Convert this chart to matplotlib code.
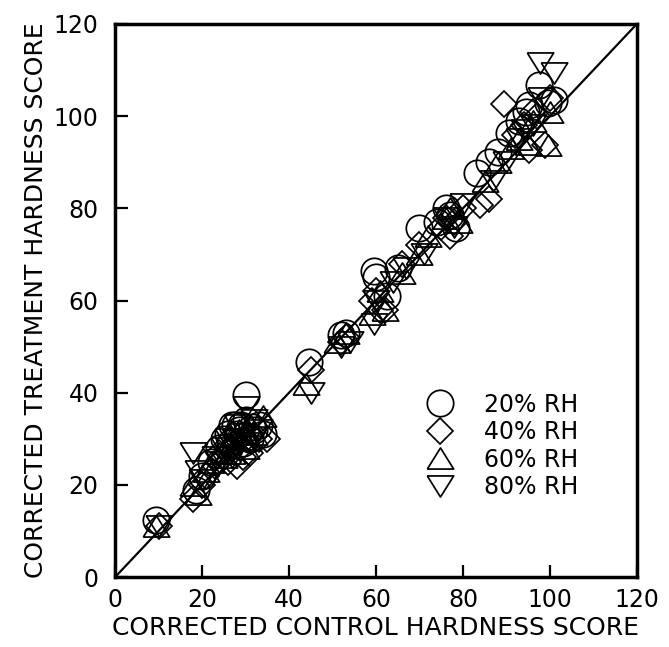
import matplotlib
matplotlib.use("Agg")
import matplotlib.pyplot as plt
from matplotlib.lines import Line2D

# 20% RH (circles)
x20 = [9.5, 18.5, 20, 22, 24, 25, 26, 27, 28, 28.5, 29, 30, 30, 31, 32, 33, 34,
       26.5, 29.5, 31.5, 27.5,
       44.5, 52, 53, 59.5, 60, 62.5, 65, 70, 74, 76, 77, 78.5, 83.3, 86, 88, 90.7,
       93, 94.5, 95.3, 97.6, 99.5, 101]
y20 = [12.4, 19, 22, 25, 28, 30, 31, 33, 31, 32, 33, 39.5, 34, 30, 32, 33, 31,
       29, 29, 32.5, 33,
       46.7, 52.5, 53, 66.5, 65, 61, 67, 75.7, 77, 80, 78.5, 75.7, 87.7, 90, 92.2, 96.4,
       99, 101, 102.4, 106.8, 102.8, 103.5]
# 40% RH (diamonds)
x40 = [10, 18, 20, 21, 23, 25, 26, 27, 28, 29, 30, 31, 33, 35, 24, 27.5, 29.5,
       45, 52, 53, 59, 60,
       61, 62, 66, 70, 75, 76, 77, 78, 80, 84, 86, 89.5, 92, 94, 95.3, 96, 98.8, 97, 100]
y40 = [11, 17, 20, 22, 24, 26, 25, 28, 24, 28, 30, 27, 30, 30, 27, 29, 26,
       45, 51, 52, 60, 62,
       58, 58, 68, 72, 76, 78, 74, 77, 80, 80.7, 82, 102.6, 96, 98, 92.7, 101, 93.7, 100, 104]
# 60% RH (up triangles)
x60 = [9.5, 18, 19, 21, 22, 24, 26, 27, 28, 29, 30, 31, 32, 34, 25, 28.5, 30.5,
       44, 51, 53, 59, 61,
       62, 66, 70, 72, 76, 77, 79, 85, 88, 91, 93, 95, 96, 99.5, 100]
y60 = [11, 20, 18, 23, 25, 27, 29, 27, 31, 30, 28, 33, 31, 35, 26, 32, 30,
       42, 51, 53, 57, 62,
       58, 66, 70, 74, 78, 80, 77, 86, 90, 93, 95, 94, 99, 93.8, 101]
# 80% RH (down triangles)
x80 = [10, 18, 19, 20, 23, 25, 26, 27, 28, 29, 30, 31, 33, 24, 27.5, 32,
       45, 52, 54, 59.5, 60, 64,
       67, 71, 76, 78, 80, 87, 90, 93, 94, 96, 97.8, 101, 98]
y80 = [11, 27, 23, 21, 26, 28, 30, 26, 33, 31, 37, 29, 32, 25, 30, 34,
       40, 50, 51, 55, 60, 64,
       67, 70, 78, 76, 81, 86, 90, 95, 97, 98, 111.5, 109.4, 104]

labels = ["20% RH", "40% RH", "60% RH", "80% RH"]
ticks = [0, 20, 40, 60, 80, 100, 120]

up_tri = [(-1, -0.8), (1, -0.8), (0, 0.8), (-1, -0.8)]
down_tri = [(-1, 0.8), (1, 0.8), (0, -0.8), (-1, 0.8)]

fig = plt.figure(figsize=(6.69, 6.47), dpi=100)
ax = fig.add_axes([0.172, 0.108, 0.78, 0.855])

ax.plot([0, 120], [0, 120], color="black", lw=1.6, zorder=1)

styles = [("o", 19), ("D", 13.5), (up_tri, 19), (down_tri, 19)]
series = [(x20, y20), (x40, y40), (x60, y60), (x80, y80)]
handles = []
for (xs, ys), (m, ms), lab in zip(series, styles, labels):
    ax.plot(xs, ys, linestyle="none", marker=m, markersize=ms,
            markerfacecolor="none", markeredgecolor="black", markeredgewidth=1.25,
            zorder=2)
    handles.append(Line2D([], [], linestyle="none", marker=m, markersize=ms,
                          markerfacecolor="none", markeredgecolor="black",
                          markeredgewidth=1.25, label=lab))

ax.legend(handles=handles, frameon=False, loc="upper left",
          bbox_to_anchor=(0.566, 0.355), fontsize=17, labelspacing=0.15,
          handletextpad=1.13, borderpad=0, handlelength=1.5)

ax.set_xlim(0, 120)
ax.set_ylim(0, 120)
ax.set_xticks(ticks)
ax.set_yticks(ticks)
ax.tick_params(direction="in", length=9, width=1.6, labelsize=17)
ax.tick_params(axis="x", pad=8)
ax.tick_params(axis="y", pad=12)
for s in ax.spines.values():
    s.set_linewidth(2.5)

ax.set_xlabel("CORRECTED CONTROL HARDNESS SCORE", fontsize=18, labelpad=3)
ax.set_ylabel("CORRECTED TREATMENT HARDNESS SCORE", fontsize=18, labelpad=4)

fig.savefig("out.png", dpi=100)
